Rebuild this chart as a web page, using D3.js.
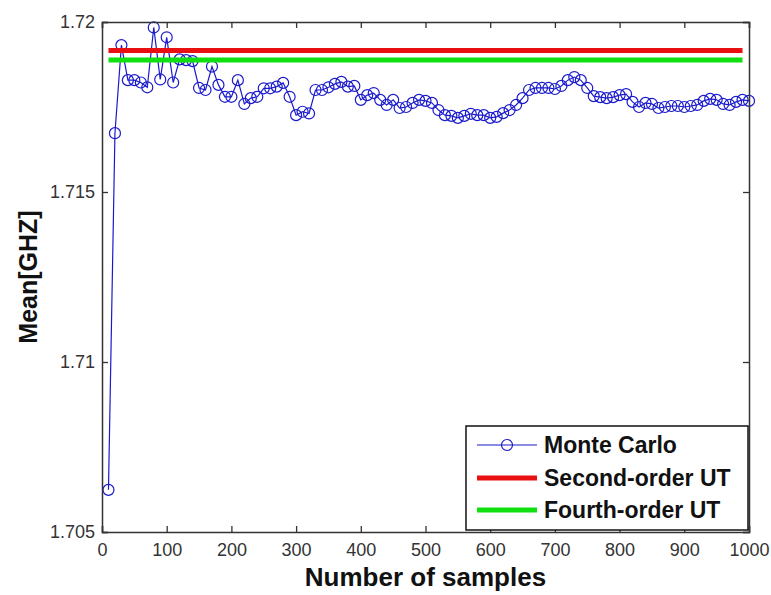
<!DOCTYPE html>
<html><head><meta charset="utf-8">
<script src="https://cdn.jsdelivr.net/npm/d3@7"></script>
<style>body{margin:0;background:#fff;} text{font-family:Arial,"Liberation Sans",sans-serif;}</style>
</head><body><svg id="c" width="771" height="595"></svg>
<script>
const samples = d3.range(10, 1001, 10);
const mcValues = [
1.70624,1.71673,1.71932,1.71829,1.71829,1.71822,1.71808,1.71984,1.71831,1.71955,
1.71822,1.71890,1.71888,1.71885,1.71806,1.71800,1.71869,1.71815,1.71780,1.71780,
1.71829,1.71759,1.71776,1.71780,1.71805,1.71805,1.71810,1.71821,1.71780,1.71726,
1.71736,1.71731,1.71800,1.71800,1.71808,1.71818,1.71824,1.71810,1.71812,1.71771,
1.71785,1.71791,1.71771,1.71756,1.71771,1.71747,1.71750,1.71762,1.71771,1.71768,
1.71762,1.71741,1.71726,1.71724,1.71718,1.71724,1.71730,1.71726,1.71726,1.71718,
1.71721,1.71732,1.71741,1.71756,1.71776,1.71800,1.71806,1.71806,1.71806,1.71803,
1.71812,1.71829,1.71838,1.71829,1.71806,1.71782,1.71779,1.71776,1.71779,1.71785,
1.71788,1.71765,1.71750,1.71762,1.71759,1.71747,1.71750,1.71753,1.71753,1.71750,
1.71753,1.71756,1.71768,1.71774,1.71771,1.71759,1.71756,1.71765,1.71771,1.71768];
const secondOrderUT = 1.71916;
const fourthOrderUT = 1.71888;
const utRange = [10, 990];
const xTicks = [0,100,200,300,400,500,600,700,800,900,1000];
const yTicks = [1.705,1.71,1.715,1.72];
const yTickLabels = ["1.705","1.71","1.715","1.72"];
const legendLabels = ["Monte Carlo","Second-order UT","Fourth-order UT"];

const svg = d3.select("#c");
const L=102, R=749, T=22, B=532;
const x = d3.scaleLinear().domain([0,1000]).range([L,R]);
const y = d3.scaleLinear().domain([1.705,1.72]).range([B,T]);
const axisColor="#333";
const blue="#1a1acc", red="#e81010", green="#10e010";

svg.append("rect").attr("x",L).attr("y",T).attr("width",R-L).attr("height",B-T).attr("fill","#fff");

const g = svg.append("g");
const mc = samples.map((s,i)=>[s,mcValues[i]]);
g.append("path").datum(mc).attr("fill","none").attr("stroke",blue).attr("stroke-width",1.2)
  .attr("d",d3.line().x(d=>x(d[0])).y(d=>y(d[1])));
g.selectAll("circle.m").data(mc).enter().append("circle")
  .attr("cx",d=>x(d[0])).attr("cy",d=>y(d[1])).attr("r",5.5)
  .attr("fill","none").attr("stroke",blue).attr("stroke-width",1.2);

g.append("line").attr("x1",x(utRange[0])).attr("x2",x(utRange[1]))
  .attr("y1",y(secondOrderUT)).attr("y2",y(secondOrderUT)).attr("stroke",red).attr("stroke-width",5);
g.append("line").attr("x1",x(utRange[0])).attr("x2",x(utRange[1]))
  .attr("y1",y(fourthOrderUT)).attr("y2",y(fourthOrderUT)).attr("stroke",green).attr("stroke-width",5);

// axes
const tl=6;
const xb = svg.append("g").attr("transform",`translate(0,${B})`)
  .call(d3.axisBottom(x).tickValues(xTicks).tickSize(-tl).tickPadding(tl+5).tickFormat(d3.format("d")));
const xt = svg.append("g").attr("transform",`translate(0,${T})`)
  .call(d3.axisTop(x).tickValues(xTicks).tickSize(-tl).tickFormat(""));
const yl = svg.append("g").attr("transform",`translate(${L},0)`)
  .call(d3.axisLeft(y).tickValues(yTicks).tickSize(-tl).tickPadding(7).tickFormat((d,i)=>yTickLabels[i]));
const yr = svg.append("g").attr("transform",`translate(${R},0)`)
  .call(d3.axisRight(y).tickValues(yTicks).tickSize(-tl).tickFormat(""));
[xb,xt,yl,yr].forEach(a=>{
  a.select(".domain").attr("stroke",axisColor).attr("stroke-width",1.5);
  a.selectAll(".tick line").attr("stroke",axisColor).attr("stroke-width",1.3);
  a.selectAll(".tick text").attr("fill","#333").style("font-size","18px").style("font-family","Arial, 'Liberation Sans', sans-serif");
});

svg.append("text").attr("x",(L+R)/2).attr("y",586).attr("text-anchor","middle")
  .style("font-size","26px").style("font-weight","bold").attr("fill","#111").text("Number of samples");
svg.append("text").attr("transform",`translate(37,${(T+B)/2}) rotate(-90)`).attr("text-anchor","middle")
  .style("font-size","25px").style("font-weight","bold").attr("fill","#111").text("Mean[GHZ]");

// legend
const lg = svg.append("g");
lg.append("rect").attr("x",466).attr("y",426).attr("width",282).attr("height",104)
  .attr("fill","#fff").attr("stroke","#111").attr("stroke-width",1.5);
const ly=[445,478,510];
const lcol=[blue,red,green];
legendLabels.forEach((t,i)=>{
  lg.append("line").attr("x1",477).attr("x2",537).attr("y1",ly[i]).attr("y2",ly[i])
    .attr("stroke",lcol[i]).attr("stroke-width",i===0?1.2:5);
  if(i===0) lg.append("circle").attr("cx",507).attr("cy",ly[i]).attr("r",5.5).attr("fill","none").attr("stroke",blue).attr("stroke-width",1.2);
  lg.append("text").attr("x",544).attr("y",ly[i]+8).style("font-size","23px").style("font-weight","bold").attr("fill","#111").text(t);
});
</script></body></html>
